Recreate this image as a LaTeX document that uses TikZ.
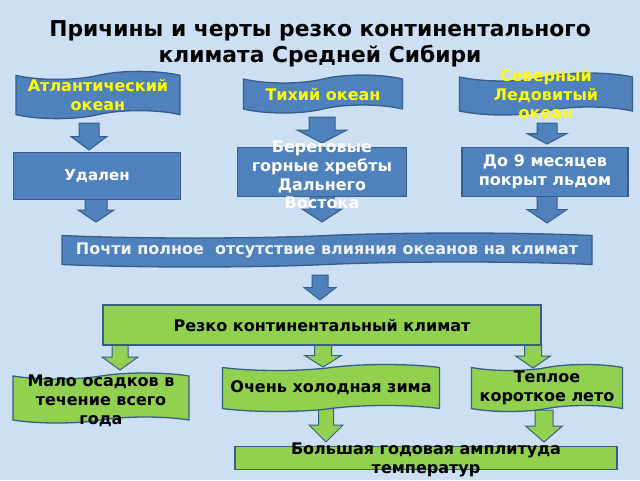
\documentclass[tikz,border=0pt]{standalone}
\usepackage{fontspec}
\setmainfont{DejaVu Sans}
\usetikzlibrary{shapes.symbols}
\definecolor{skyback}{RGB}{205,224,243}
\definecolor{oceanblue}{RGB}{79,129,189}
\definecolor{edgeblue}{RGB}{56,93,138}
\definecolor{grassgreen}{RGB}{146,208,80}
\definecolor{sunyellow}{RGB}{255,255,0}
\definecolor{paletext}{RGB}{238,242,246}

\tikzset{
  boxfont/.style={font=\bfseries\fontsize{16}{18.8}\selectfont, align=center},
  box/.style={boxfont, draw=edgeblue, line width=1.3pt, inner sep=0pt},
  bluebox/.style={box, fill=oceanblue, text=white},
  greenbox/.style={box, fill=grassgreen, text=black},
  wave/.style={tape, tape bend height=#1},
  wave/.default=8pt,
  bluearrow/.style={fill=oceanblue, draw=edgeblue, line width=1pt},
  greenarrow/.style={fill=grassgreen, draw=edgeblue, line width=1pt},
  pics/downarrow/.style n args={3}{code={
    \path[pic actions] (-#1,0) -- (#1,0) -- (#1,#3/2) -- (#2,#3/2)
      -- (0,#3) -- (-#2,#3/2) -- (-#1,#3/2) -- cycle;}}
}

\begin{document}
\begin{tikzpicture}[x=1pt,y=-1pt]
        % Background
        \fill[skyback] (0,0) rectangle (640,480);
        \useasboundingbox (0,0) rectangle (640,480);
        % Title
        \node[font=\bfseries\fontsize{21.8}{25.5}\selectfont, align=center]
          (title) at (320,44) {Причины и черты резко континентального\\климата Средней Сибири};
        % Block arrows (under the boxes)
        \pic[bluearrow] at (89,123) {downarrow={10}{18}{27}};
        \pic[bluearrow] at (322,117) {downarrow={13}{25}{26}};
        \pic[bluearrow] at (547,123) {downarrow={10}{20}{21}};
        \pic[bluearrow] at (96,198) {downarrow={11}{18}{24}};
        \pic[bluearrow] at (322,196) {downarrow={12}{20}{26}};
        \pic[bluearrow] at (547,196) {downarrow={10}{20}{27}};
        \pic[bluearrow] at (320,275) {downarrow={8}{16}{25}};
        \pic[greenarrow] at (120,344) {downarrow={8}{18}{26}};
        \pic[greenarrow] at (323,344) {downarrow={8.5}{18.5}{23}};
        \pic[greenarrow] at (533,344) {downarrow={8.5}{17.5}{24}};
        \pic[greenarrow] at (326,408) {downarrow={7.5}{17}{34}};
        \pic[greenarrow] at (544,410) {downarrow={9}{18.5}{32}};
        % Oceans
        \node[bluebox, wave, minimum width=164pt, minimum height=40pt, text=sunyellow]
          (atl) at (98,95) {Атлантический\\океан};
        \node[bluebox, wave, minimum width=159pt, minimum height=38pt, text=sunyellow]
          (pac) at (323,94) {Тихий океан};
        \node[bluebox, wave, minimum width=173pt, minimum height=42pt]
          (arc) at (546,94) {};
        \node[boxfont, text=sunyellow] (arc-t) at (546,94) {Северный\\Ледовитый\\океан};
        % Reasons
        \node[bluebox, minimum width=167pt, minimum height=47pt,
          font=\bfseries\fontsize{15}{18.5}\selectfont]
          (far) at (97,176) {Удален};
        \node[bluebox, minimum width=169pt, minimum height=49pt]
          (mnt) at (322,172) {};
        \node[boxfont, text=white] (mnt-t) at (322,175) {Береговые\\горные хребты\\Дальнего\\Востока};
        \node[bluebox, minimum width=166pt, minimum height=49pt]
          (ice) at (545,172) {До 9 месяцев\\покрыт льдом};
        \node[bluebox, wave=5pt, minimum width=530pt, minimum height=34pt, text=paletext]
          (none) at (327,250) {Почти полное\ \ отсутствие влияния океанов на климат};
        % Climate
        \node[greenbox, minimum width=438pt, minimum height=40pt]
          (klim) at (322,325) {Резко континентальный климат};
        \node[greenbox, wave=6pt, minimum width=176pt, minimum height=50pt]
          (dry) at (101,398) {};
        \node[boxfont] (dry-t) at (101,401) {Мало осадков в\\течение всего\\года};
        \node[greenbox, wave=6pt, minimum width=217pt, minimum height=47pt]
          (cold) at (331,388) {Очень холодная зима};
        \node[greenbox, wave=6pt, minimum width=151pt, minimum height=47pt]
          (warm) at (547,388) {Теплое\\короткое лето};
        \node[greenbox, minimum width=382pt, minimum height=23pt]
          (amp) at (426,458) {};
        \node[boxfont] (amp-t) at (426,460) {Большая годовая амплитуда\\температур};
\end{tikzpicture}
\end{document}
